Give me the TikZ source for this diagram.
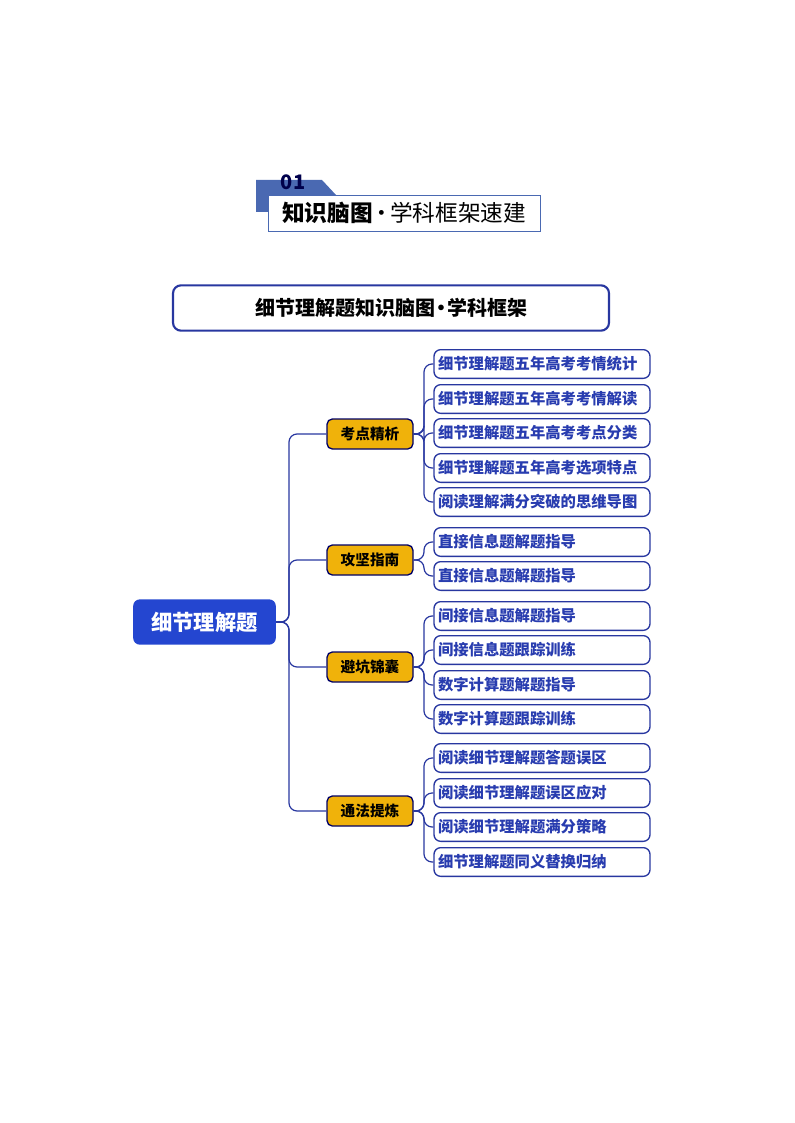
\documentclass[tikz,border=0pt]{standalone}
\usepackage{fontspec}
\setmainfont{Noto Sans CJK SC}
\definecolor{hdrblue}{RGB}{74,105,178}
\definecolor{leafblue}{RGB}{40,60,175}
\definecolor{gold}{RGB}{240,178,10}
\definecolor{rootblue}{RGB}{36,70,208}
\definecolor{linblue}{RGB}{40,55,160}
\begin{document}
\begin{tikzpicture}[x=0.75pt,y=-0.75pt,
 lvtwo/.style={draw=black!60!blue,fill=gold,rounded corners=4pt,line width=1pt,minimum width=64.5pt,minimum height=22.5pt,font=\fontsize{11}{11}\selectfont\bfseries,inner sep=0pt},
 leaf/.style={draw=linblue,rounded corners=5pt,line width=1pt,minimum width=162pt,minimum height=21.5pt,text width=156pt,align=left,font=\fontsize{11.5}{12}\selectfont\bfseries,text=leafblue,inner sep=2pt},
 conn/.style={draw=linblue,line width=0.9pt,rounded corners=6pt}]
\useasboundingbox (0,0) rectangle (794,1123);
% header
\fill[hdrblue] (256,212) -- (256,180) -- (322,180) -- (336,195) -- (268,195) -- (268,212) -- cycle;
\node[font=\fontsize{15}{15}\selectfont\bfseries,text=blue!30!black] (num) at (293,182) {01};
\node[draw=hdrblue,line width=0.6pt,fill=white,minimum width=204pt,minimum height=27pt,inner sep=0pt] (hdr) at (404,213) {\fontsize{17}{17}\selectfont\textbf{知识脑图}\kern-2pt·\kern-2pt 学科框架速建};
% title
\node[draw=linblue,line width=1.6pt,rounded corners=6pt,minimum width=327pt,minimum height=34pt,font=\fontsize{15}{15}\selectfont\bfseries] (title) at (391,308) {细节理解题知识脑图\kern-3pt•\kern-3pt 学科框架};
% root
\node[fill=rootblue,rounded corners=5pt,minimum width=107pt,minimum height=34pt,text=white,font=\fontsize{16}{16}\selectfont\bfseries] (root) at (204.5,622) {细节理解题};
% level2
\node[lvtwo] (a) at (370,434) {考点精析};
\node[lvtwo] (b) at (370,560) {攻坚指南};
\node[lvtwo] (c) at (370,667) {避坑锦囊};
\node[lvtwo] (d) at (370,811) {通法提炼};
\foreach \n in {a,b,c,d}{
 \draw[conn] (root.east) -- (289,622) |- (\n.west);
}
% leaves
\foreach \i/\y/\t/\p in {
 a1/364/细节理解题五年高考考情统计/a, a2/399/细节理解题五年高考考情解读/a, a3/433/细节理解题五年高考考点分类/a, a4/468/细节理解题五年高考选项特点/a, a5/502/阅读理解满分突破的思维导图/a,
 b1/542/直接信息题解题指导/b, b2/576/直接信息题解题指导/b,
 c1/616/间接信息题解题指导/c, c2/650/间接信息题跟踪训练/c, c3/685/数字计算题解题指导/c, c4/719/数字计算题跟踪训练/c,
 d1/758/阅读细节理解题答题误区/d, d2/793/阅读细节理解题误区应对/d, d3/827/阅读细节理解题满分策略/d, d4/862/细节理解题同义替换归纳/d}{
 \node[leaf] (\i) at (542,\y) {\t};
 \draw[conn] (\p.east) -- (424,0 |- \p.east) |- (\i.west);
}
\end{tikzpicture}
\end{document}
